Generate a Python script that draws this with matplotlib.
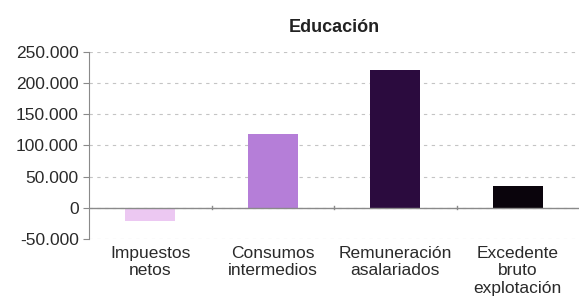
import numpy as np
import matplotlib.pyplot as plt
from matplotlib.ticker import FuncFormatter

plt.rcParams['font.family'] = ['Liberation Sans', 'DejaVu Sans']

# datos
categorias = ['Impuestos\nnetos', 'Consumos\nintermedios', 'Remuneración\nasalariados',
              'Excedente\nbruto\nexplotación']
valores = [-22000, 119000, 221000, 35000]
colores = ['#ecc8f2', '#b57ed8', '#2b0b3e', '#0a040c']

fig = plt.figure(figsize=(5.79, 3.02), dpi=100)
ax = fig.add_axes([0.154, 0.209, 0.846, 0.619])

x = np.arange(len(categorias))
ax.bar(x, valores, width=0.41, color=colores, zorder=3)

ax.set_xlim(-0.5, len(categorias) - 0.5)
ax.set_ylim(-50000, 250000)
ax.set_yticks(np.arange(-50000, 250001, 50000))
ax.yaxis.set_major_formatter(FuncFormatter(lambda v, p: f'{int(v):,}'.replace(',', '.')))
ax.grid(axis='y', linestyle=(0, (3, 4)), color='#c4c4c4', linewidth=0.8, zorder=0)
ax.axhline(0, color='#8a8a8a', linewidth=1.0, zorder=4)

for s in ['top', 'right', 'bottom']:
    ax.spines[s].set_visible(False)
ax.spines['left'].set_color('#8a8a8a')

ax.set_xticks(x)
ax.set_xticklabels(categorias, fontsize=12.5, color='#2a2a2a', linespacing=1.2, va='top')
ax.tick_params(axis='x', length=0, pad=5)
ax.tick_params(axis='y', labelsize=12.5, colors='#2a2a2a', length=4, color='#8a8a8a')

# marcas pequenas en la linea del cero entre categorias
for b in x[:-1] + 0.5:
    ax.plot([b, b], [-2500, 2500], color='#8a8a8a', linewidth=1.0, zorder=4)

ax.set_title('Educación', fontsize=13, fontweight='bold', color='#222222', pad=14)

fig.savefig('out.png', dpi=100)
